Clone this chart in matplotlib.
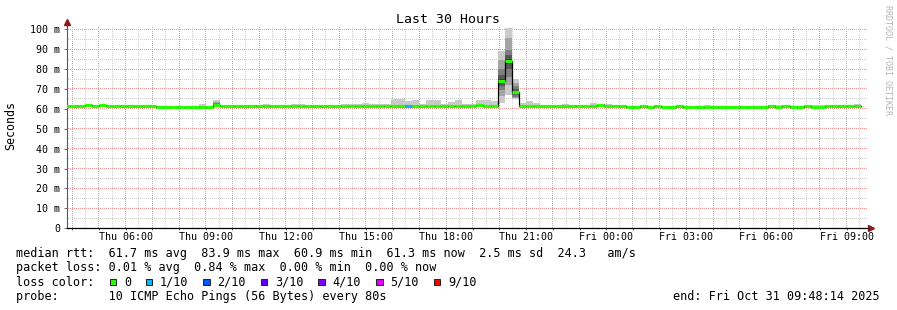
import datetime as dt
import numpy as np
import matplotlib
matplotlib.use("Agg")
import matplotlib.pyplot as plt
import matplotlib.dates as mdates
import matplotlib.ticker as mticker
from matplotlib.patches import Rectangle

plt.rcParams['font.family'] = ['DejaVu Sans Mono', 'DejaVu Sans']

# ---- data: 16 minute bins starting Thu 03:40 ----
t0 = dt.datetime(2025, 10, 30, 3, 40)
bin_minutes = 16
view_start = dt.datetime(2025, 10, 30, 3, 48, 14)
view_end = dt.datetime(2025, 10, 31, 9, 48, 14)

median = [
    61.3, 61.3, 61.3, 61.8, 61.3, 61.8, 61.3, 61.3, 61.3, 61.3, 61.3, 61.3, 61.3, 60.8, 60.8, 60.8,
    60.8, 60.8, 60.8, 60.8, 60.8, 62.0, 61.3, 61.3, 61.3, 61.3, 61.3, 61.3, 61.3, 61.3, 61.3, 61.3,
    61.3, 61.3, 61.3, 61.3, 61.3, 61.3, 61.3, 61.3, 61.3, 61.3, 61.3, 61.3, 61.3, 61.3, 61.3, 61.3,
    61.3, 61.3, 61.3, 61.3, 61.3, 61.3, 61.3, 61.3, 61.3, 61.3, 61.8, 61.3, 61.3, 74.2, 83.9, 68.6,
    61.4, 61.4, 61.4, 61.4, 61.4, 61.4, 61.4, 61.4, 61.4, 61.4, 61.4, 61.8, 61.6, 61.6, 61.6, 61.1,
    61.1, 61.6, 61.1, 61.6, 61.1, 61.1, 61.6, 61.1, 61.1, 61.1, 61.1, 61.1, 61.1, 61.1, 61.1, 61.1,
    61.1, 61.1, 61.1, 61.6, 61.1, 61.6, 61.1, 61.1, 61.6, 61.1, 61.1, 61.6, 61.6, 61.6, 61.6, 61.6,
]

smoke_max = [
    61.5, 61.5, 61.5, 61.9, 61.5, 61.9, 61.5, 61.5, 61.5, 61.5, 61.5, 61.5, 61.9, 61.0, 61.0, 61.0,
    61.0, 61.0, 61.0, 62.4, 61.0, 64.5, 61.5, 61.5, 61.5, 61.5, 61.9, 61.9, 62.4, 61.5, 61.5, 61.5,
    62.4, 62.4, 61.5, 61.5, 61.5, 61.5, 61.5, 62.4, 62.4, 62.4, 62.9, 62.4, 62.4, 62.4, 65.2, 65.2,
    63.8, 64.3, 62.6, 64.3, 64.3, 62.6, 63.3, 64.3, 62.6, 62.7, 64.7, 64.7, 63.9, 89.2, 100.5, 75.0,
    63.0, 64.0, 63.0, 61.6, 61.6, 61.6, 62.4, 61.6, 61.6, 61.6, 63.2, 62.4, 62.4, 61.8, 61.8, 61.3,
    61.3, 61.8, 61.3, 61.8, 61.3, 61.3, 61.8, 61.3, 61.3, 61.3, 61.9, 61.3, 61.3, 61.3, 61.3, 61.3,
    61.3, 61.3, 61.3, 61.8, 61.9, 61.8, 61.3, 61.3, 61.8, 61.9, 61.9, 61.8, 61.8, 61.8, 61.8, 62.4,
]

smoke_min = [
    61.0, 61.0, 61.0, 61.0, 61.0, 61.0, 61.0, 61.0, 61.0, 61.0, 61.0, 61.0, 61.0, 60.5, 60.5, 60.5,
    60.5, 60.5, 60.5, 60.5, 60.5, 61.0, 61.0, 61.0, 61.0, 61.0, 61.0, 61.0, 61.0, 61.0, 61.0, 61.0,
    61.0, 61.0, 61.0, 61.0, 61.0, 61.0, 61.0, 61.0, 61.0, 61.0, 61.0, 61.0, 61.0, 61.0, 61.0, 61.0,
    61.0, 61.0, 61.0, 61.0, 61.0, 61.0, 61.0, 61.0, 61.0, 61.0, 61.0, 61.0, 61.0, 63.1, 67.0, 64.8,
    61.0, 61.0, 61.0, 61.0, 61.0, 61.0, 61.0, 61.0, 61.0, 61.0, 61.0, 61.0, 61.0, 61.0, 61.0, 60.9,
    60.9, 60.9, 60.9, 60.9, 60.9, 60.9, 60.9, 60.9, 60.9, 60.9, 60.9, 60.9, 60.9, 60.9, 60.9, 60.9,
    60.9, 60.9, 60.9, 60.9, 60.9, 60.9, 60.9, 60.9, 60.9, 60.9, 60.9, 60.9, 60.9, 60.9, 60.9, 60.9,
]

loss = [
    0, 0, 0, 0, 0, 0, 0, 0, 0, 0, 0, 0, 0, 0, 0, 0,
    0, 0, 0, 0, 0, 0, 0, 0, 0, 0, 0, 0, 0, 0, 0, 0,
    0, 0, 0, 0, 0, 0, 0, 0, 0, 0, 0, 0, 0, 0, 0, 0,
    1, 0, 0, 0, 0, 0, 0, 0, 0, 0, 0, 0, 0, 0, 0, 0,
    0, 0, 0, 0, 0, 0, 0, 0, 0, 0, 0, 0, 0, 0, 0, 0,
    0, 0, 0, 0, 0, 0, 0, 0, 0, 0, 0, 0, 0, 0, 0, 0,
    0, 0, 0, 0, 0, 0, 0, 0, 0, 0, 0, 0, 0, 0, 0, 0,
]

# bins where the individual (sorted) pings are visible as shaded smoke
detail_bins = [21, 61, 62, 63]
detail_pings = [
    [61.0, 61.3, 61.5, 61.7, 61.9, 62.1, 62.4, 62.8, 63.5, 64.5],
    [63.1, 66.5, 69.5, 71.5, 73.5, 75.0, 77.0, 80.0, 84.5, 89.2],
    [67.0, 72.0, 76.0, 79.8, 82.5, 85.0, 87.0, 89.6, 95.4, 100.5],
    [64.8, 65.5, 66.2, 67.0, 68.2, 69.0, 70.0, 71.5, 73.0, 75.0],
]

loss_labels = ['0', '1/10', '2/10', '3/10', '4/10', '5/10', '9/10']
loss_colors = ['#26ff00', '#00b8ff', '#0059ff', '#5e00ff', '#7e00ff', '#dd00ff', '#ff0000']

stats_rtt = "median rtt:  61.7 ms avg  83.9 ms max  60.9 ms min  61.3 ms now  2.5 ms sd  24.3   am/s"
stats_loss = "packet loss: 0.01 % avg  0.84 % max  0.00 % min  0.00 % now"
probe_text = "probe:       10 ICMP Echo Pings (56 Bytes) every 80s"
end_text = "end: Fri Oct 31 09:48:14 2025"

# ---- figure ----
W, H = 897, 310
fig = plt.figure(figsize=(W / 100, H / 100), dpi=100)
fig.patch.set_facecolor('white')
ax = fig.add_axes([67 / W, (H - 228.3) / H, 801 / W, 201 / H])
ax.patch.set_visible(False)

starts = [t0 + dt.timedelta(minutes=bin_minutes * k) for k in range(len(median))]
xs = mdates.date2num(starts)
bw = bin_minutes / 1440.0

# smoke
lo = np.array(smoke_min)
hi = np.array(smoke_max)
ax.bar(xs, hi - lo, bottom=lo, width=bw, align='edge', color='#cacaca', linewidth=0, zorder=1)
for b, pings in zip(detail_bins, detail_pings):
    for i in range(5):
        g = int(190 / 5 * (5 - (i + 1))) + 50
        ax.bar(xs[b], pings[9 - i] - pings[i], bottom=pings[i], width=bw, align='edge',
               color='#%02x%02x%02x' % (g, g, g), linewidth=0, zorder=1.1 + i * 0.01)

# median: black step + loss coloured segments
edges = np.append(xs, xs[-1] + bw)
ax.step(edges, np.append(median, median[-1]), where='post', color='black', lw=0.9, zorder=2)
seg_colors = [loss_colors[l] for l in loss]
ax.hlines(median, xs, xs + bw, colors=seg_colors, linewidth=2.3, zorder=3)

ax.set_xlim(mdates.date2num(view_start), mdates.date2num(view_end))
ax.set_ylim(0, 101)

# ticks
ax.xaxis.set_major_locator(mdates.HourLocator(interval=1))


def xfmt(x, pos):
    d = mdates.num2date(x + 1e-6)
    return d.strftime('%a %H:%M') if d.hour % 3 == 0 else ''


ax.xaxis.set_major_formatter(mticker.FuncFormatter(xfmt))
ax.set_yticks(np.arange(0, 101, 10))
ax.set_yticklabels(['0'] + ['%d m' % v for v in range(10, 101, 10)])

ax.tick_params(axis='y', which='major', length=2.5, width=0.7, color='#707070', pad=2.5, labelsize=7.2)
ax.tick_params(axis='x', which='major', length=1.5, width=0.7, color='#707070', pad=1.5, labelsize=7.2)

# dotted rrdtool style grid (1 px on / 1 px off), rendered as a pixel layer behind the axes
grid = np.zeros((H, W, 4))
maj_rgb = np.array([240, 150, 150]) / 255
min_rgb = np.array([208, 208, 208]) / 255
x_lo, x_hi = ax.get_xlim()
px_left = int(ax.transData.transform((x_lo, 0))[0])
px_right = int(ax.transData.transform((x_hi, 0))[0])
row_bottom = int(H - ax.transData.transform((x_lo, 0))[1])
row_top = int(H - ax.transData.transform((x_lo, 100.8))[1])


def hgrid(yv, rgb):
    r = int(H - ax.transData.transform((x_lo, yv))[1])
    cols = np.arange(px_left + 1, px_right, 2)
    grid[r, cols, :3] = rgb
    grid[r, cols, 3] = 1


def vgrid(xv, rgb):
    c = int(ax.transData.transform((xv, 0))[0])
    rows = np.arange(row_top, row_bottom, 2)
    grid[rows, c, :3] = rgb
    grid[rows, c, 3] = 1


# minor lines every 30 min / 5 units, major lines every hour / 10 units
t = view_start.replace(minute=0, second=0)
while t < view_end:
    for half, rgb in ((dt.timedelta(minutes=30), min_rgb), (dt.timedelta(0), maj_rgb)):
        tt = t + half
        if view_start < tt < view_end:
            vgrid(mdates.date2num(tt), rgb)
    t += dt.timedelta(hours=1)
for yv in range(5, 100, 10):
    hgrid(yv, min_rgb)
for yv in range(10, 101, 10):
    hgrid(yv, maj_rgb)
fig.figimage(grid, xo=0, yo=0, origin='upper', zorder=-1)

for s in ('top', 'right'):
    ax.spines[s].set_visible(False)
ax.spines['left'].set_color('#5a5a5a')
ax.spines['left'].set_linewidth(0.8)
ax.spines['bottom'].set_color('black')
ax.spines['bottom'].set_linewidth(0.9)

# axis extensions with arrows
ax.plot([0, 0], [1, 1.025], transform=ax.transAxes, color='#5a5a5a', lw=0.8, clip_on=False)
ax.plot([1, 1.004], [0, 0], transform=ax.transAxes, color='black', lw=0.9, clip_on=False)
ax.plot([0], [1.025], transform=ax.transAxes, marker='^', ms=4, color='#8b1a1a', clip_on=False)
ax.plot([1.004], [0], transform=ax.transAxes, marker='>', ms=4, color='#8b1a1a', clip_on=False)

# titles
fig.text(447.5 / W, 1 - 19.5 / H, "Last 30 Hours", ha='center', va='center', fontsize=9.5)
fig.text(11 / W, 1 - 126 / H, "Seconds", rotation=90, ha='center', va='center', fontsize=8.4)
fig.text(888 / W, 1 - 60 / H, "RRDTOOL / TOBI OETIKER", rotation=270, ha='center', va='center',
         fontsize=6, color='#b4b4b4')

# legend block
fs = 8.5
fig.text(16 / W, 1 - 253.5 / H, stats_rtt, ha='left', va='center', fontsize=fs)
fig.text(16 / W, 1 - 268 / H, stats_loss, ha='left', va='center', fontsize=fs)
fig.text(16 / W, 1 - 282 / H, "loss color:", ha='left', va='center', fontsize=fs)
slot = 7.2
col = 13
for lab, c in zip(loss_labels, loss_colors):
    bx = 16 + col * slot
    fig.patches.append(Rectangle((bx / W, 1 - 285 / H), 6.5 / W, 6.5 / H, transform=fig.transFigure,
                                 facecolor=c, edgecolor='#202020', linewidth=0.7, figure=fig))
    fig.text((bx + 2 * slot) / W, 1 - 282 / H, lab, ha='left', va='center', fontsize=fs)
    col += 2 + len(lab) + 2
fig.text(16 / W, 1 - 296.5 / H, probe_text, ha='left', va='center', fontsize=fs)
fig.text(880 / W, 1 - 296.5 / H, end_text, ha='right', va='center', fontsize=fs)

fig.savefig('out.png', dpi=100, facecolor='white')
